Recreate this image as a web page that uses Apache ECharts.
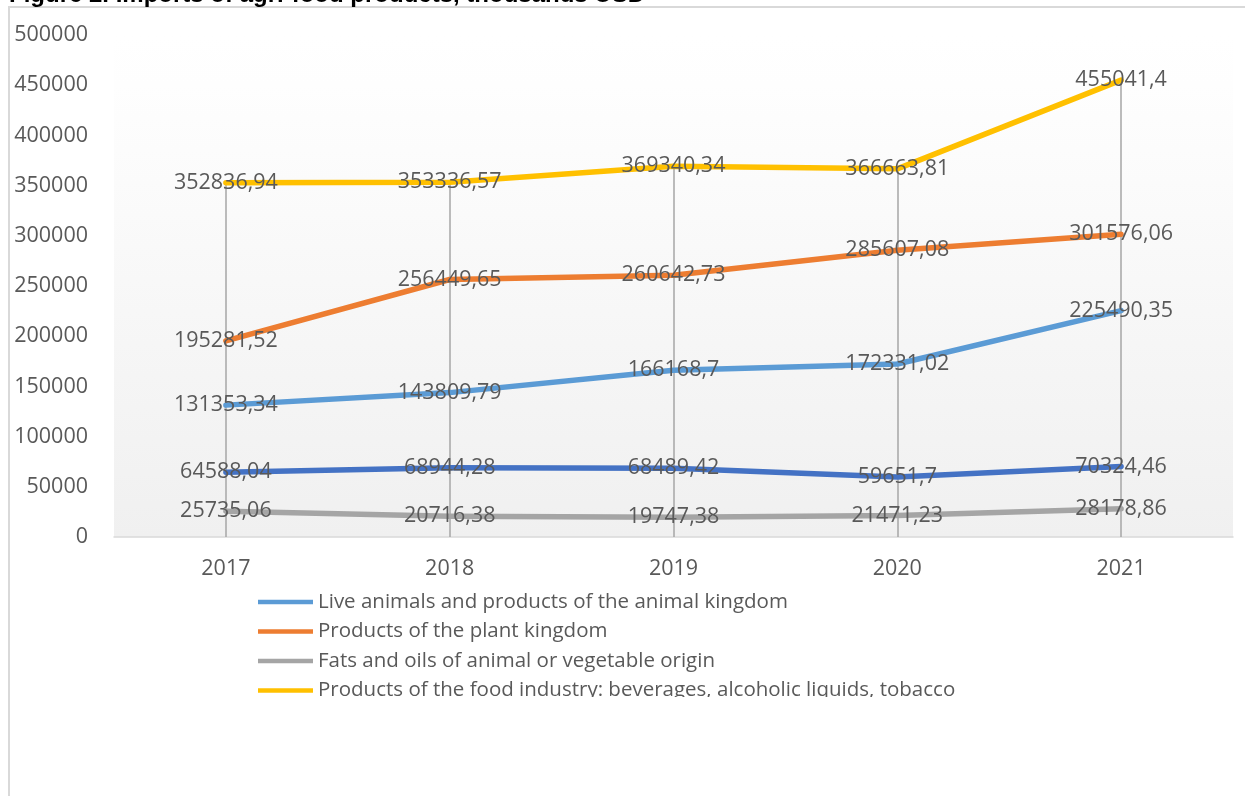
<!DOCTYPE html>
<html>
<head>
<meta charset="utf-8">
<script src="https://cdn.jsdelivr.net/npm/echarts@6/dist/echarts.min.js"></script>
<style>
  html, body { margin: 0; padding: 0; background: #ffffff; }
  #chart { width: 1245px; height: 796px; }
</style>
</head>
<body>
<div id="chart"></div>
<script>
// Imports of agri-food products, thousands USD
const years = ['2017', '2018', '2019', '2020', '2021'];

const liveAnimals = [131353.34, 143809.79, 166168.7, 172331.02, 225490.35];
const plantProducts = [195281.52, 256449.65, 260642.73, 285607.08, 301576.06];
const fatsOils = [25735.06, 20716.38, 19747.38, 21471.23, 28178.86];
const foodIndustry = [352836.94, 353336.57, 369340.34, 366663.81, 455041.4];
const otherProducts = [64588.04, 68944.28, 68489.42, 59651.7, 70324.46];

const seriesNames = [
  'Live animals and products of the animal kingdom',
  'Products of the plant kingdom',
  'Fats and oils of animal or vegetable origin',
  'Products of the food industry: beverages, alcoholic liquids, tobacco',
  'Other agri-food products'
];

const yTicks = { min: 0, max: 500000, interval: 50000 };

const FONT = '"Open Sans", "Noto Sans", sans-serif';
const TEXT = '#595959';

// Drop lines run from the highest point of each year down to the axis
const allSeries = [liveAnimals, plantProducts, fatsOils, foodIndustry, otherProducts];
const dropTops = years.map((y, i) => Math.max(...allSeries.map(s => s[i])));

const fmt = v => String(v).replace('.', ',');

function lineSeries(name, data, color, extra) {
  return Object.assign({
    name: name,
    type: 'line',
    data: data,
    showSymbol: true,
    showAllSymbol: true,
    symbol: 'circle',
    symbolSize: 0.1,
    lineStyle: { color: color, width: 5.5, cap: 'round', join: 'round' },
    itemStyle: { color: color },
    label: {
      show: true,
      position: 'inside',
      offset: [0, 4],
      formatter: p => fmt(p.value),
      color: TEXT,
      fontFamily: FONT,
      fontSize: 21.5
    },
    labelLayout: { hideOverlap: false },
    emphasis: { disabled: true },
    animation: false
  }, extra || {});
}

const chart = echarts.init(document.getElementById('chart'), null, { renderer: 'canvas' });

chart.setOption({
  backgroundColor: '#ffffff',
  animation: false,
  grid: {
    left: 114,
    right: 12,
    top: 35,
    bottom: 259,
    show: true,
    borderWidth: 0,
    backgroundColor: {
      type: 'linear', x: 0, y: 0, x2: 0, y2: 1,
      colorStops: [
        { offset: 0, color: '#ffffff' },
        { offset: 0.1, color: '#fefefe' },
        { offset: 1, color: '#f0f0f0' }
      ]
    }
  },
  legend: {
    orient: 'vertical',
    left: 258,
    top: 591,
    padding: 0,
    itemWidth: 55,
    itemHeight: 4.5,
    itemGap: 7.5,
    icon: 'rect',
    selectedMode: false,
    textStyle: { color: TEXT, fontFamily: FONT, fontSize: 20.5, lineHeight: 22 },
    data: seriesNames
  },
  xAxis: {
    type: 'category',
    data: years,
    boundaryGap: true,
    axisLine: { show: true, lineStyle: { color: '#d9d9d9', width: 1.5 } },
    axisTick: { show: false },
    axisLabel: { color: TEXT, fontFamily: FONT, fontSize: 21.5, margin: 21 },
    splitLine: { show: false }
  },
  yAxis: {
    type: 'value',
    min: yTicks.min,
    max: yTicks.max,
    interval: yTicks.interval,
    axisLine: { show: false },
    axisTick: { show: false },
    axisLabel: { color: TEXT, fontFamily: FONT, fontSize: 21.5, margin: 26, formatter: v => String(v) },
    splitLine: { show: false }
  },
  series: [
    lineSeries(seriesNames[0], liveAnimals, '#5B9BD5', {
      markLine: {
        silent: true,
        symbol: 'none',
        z: 1,
        animation: false,
        label: { show: false },
        lineStyle: { color: '#a6a6a6', width: 1.5, type: 'solid' },
        emphasis: { disabled: true },
        data: years.map((y, i) => [{ coord: [y, dropTops[i]] }, { coord: [y, 0] }])
      }
    }),
    lineSeries(seriesNames[1], plantProducts, '#ED7D31'),
    lineSeries(seriesNames[2], fatsOils, '#A5A5A5'),
    lineSeries(seriesNames[3], foodIndustry, '#FFC000'),
    lineSeries(seriesNames[4], otherProducts, '#4472C4')
  ],
  graphic: [
    {
      type: 'rect',
      z: 200,
      silent: true,
      shape: { x: 11, y: 697, width: 1240, height: 110 },
      style: { fill: '#ffffff' }
    },
    {
      type: 'rect',
      z: 210,
      silent: true,
      shape: { x: 9, y: 7, width: 1300, height: 900 },
      style: { fill: 'none', stroke: '#d9d9d9', lineWidth: 2 }
    },
    {
      type: 'text',
      z: 220,
      silent: true,
      style: {
        text: 'Figure 2. Imports of agri-food products, thousands USD',
        x: 9,
        y: -5,
        verticalAlign: 'middle',
        font: 'bold 24px "Liberation Sans", Arial, sans-serif',
        fill: '#000000'
      }
    }
  ]
});
</script>
</body>
</html>
